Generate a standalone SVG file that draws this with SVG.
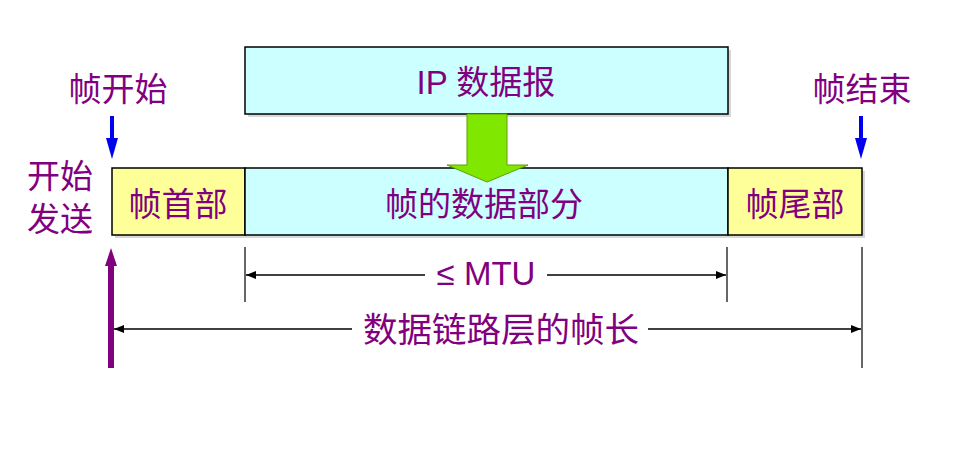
<svg xmlns="http://www.w3.org/2000/svg" width="972" height="468" viewBox="0 0 972 468">
<style>
.t{font-family:"Liberation Sans","Noto Sans CJK SC",sans-serif;font-size:33px;fill:#800080;text-anchor:middle}
.box{stroke:#000;stroke-width:1.5}
.cy{fill:#ccffff}
.ye{fill:#ffff99}
.sh{fill:#d8d8d8}
.dim{stroke:#000;stroke-width:1.5;fill:none}
.tick{stroke:#000;stroke-width:1.2}
</style>
<defs>
<marker id="ah" viewBox="0 0 10 8" refX="10" refY="4" markerWidth="10" markerHeight="8" markerUnits="userSpaceOnUse" orient="auto">
<path d="M0,0 L10,4 L0,8 Z" fill="#000"/>
</marker>
</defs>
<rect width="972" height="468" fill="#fff"/>

<g id="ip">
<rect class="sh" x="248" y="50" width="483" height="67"/>
<rect class="box cy" x="245" y="47" width="483" height="67"/>
<text class="t" x="486" y="94">IP 数据报</text>
</g>

<g id="frame-header">
<rect class="sh" x="115" y="171" width="133" height="67"/>
<rect class="box ye" x="112" y="168" width="133" height="67"/>
<text class="t" x="178" y="216">帧首部</text>
</g>
<g id="frame-data">
<rect class="sh" x="248" y="171" width="483" height="67"/>
<rect class="box cy" x="245" y="168" width="483" height="67"/>
<text class="t" x="484" y="216">帧的数据部分</text>
</g>
<g id="frame-trailer">
<rect class="sh" x="731" y="171" width="134" height="67"/>
<rect class="box ye" x="728" y="168" width="134" height="67"/>
<text class="t" x="795" y="216">帧尾部</text>
</g>

<g id="labels">
<text class="t" x="118" y="101">帧开始</text>
<text class="t" x="862" y="101">帧结束</text>
<text class="t" x="60" y="188">开始</text>
<text class="t" x="60" y="231">发送</text>
<text class="t" x="486" y="285">≤ MTU</text>
<text class="t" x="501" y="342" style="font-size:34.5px">数据链路层的帧长</text>
</g>

<g id="connectors">
<path d="M467,114 L507,114 L507,165 L528,165 L487,182 L447,165 L467,165 Z" fill="#80e800" stroke="#5aa000" stroke-width="1"/>
<line x1="112" y1="116" x2="112" y2="140" stroke="#0000ee" stroke-width="4"/>
<path d="M106,138 L118,138 L112,159 Z" fill="#0000ee"/>
<line x1="861" y1="116" x2="861" y2="140" stroke="#0000ee" stroke-width="4"/>
<path d="M855,138 L867,138 L861,159 Z" fill="#0000ee"/>
<line x1="111" y1="368" x2="111" y2="264" stroke="#800080" stroke-width="6"/>
<path d="M105,266 L117,266 L111,248 Z" fill="#800080"/>
<line class="tick" x1="245" y1="247" x2="245" y2="302"/>
<line class="tick" x1="727" y1="247" x2="727" y2="302"/>
<line class="tick" x1="862" y1="247" x2="862" y2="368"/>
<line class="dim" x1="425" y1="275" x2="246" y2="275" marker-end="url(#ah)"/>
<line class="dim" x1="547" y1="275" x2="726" y2="275" marker-end="url(#ah)"/>
<line class="dim" x1="352" y1="329" x2="114" y2="329" marker-end="url(#ah)"/>
<line class="dim" x1="648" y1="329" x2="861" y2="329" marker-end="url(#ah)"/>
</g>
</svg>
